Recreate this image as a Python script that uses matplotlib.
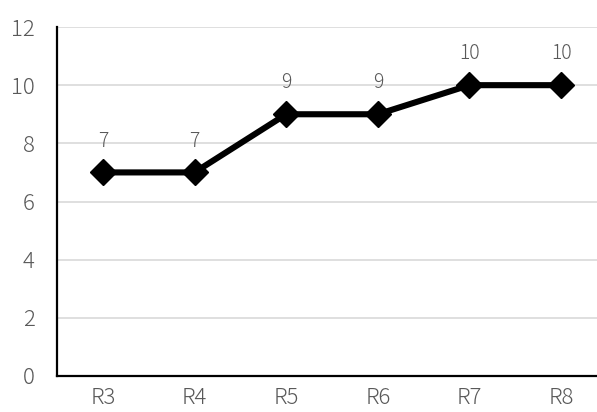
import matplotlib.pyplot as plt

categories = ['R3', 'R4', 'R5', 'R6', 'R7', 'R8']
values = [7, 7, 9, 9, 10, 10]
yticks = [0, 2, 4, 6, 8, 10, 12]

plt.rcParams['font.family'] = ['Noto Sans CJK JP', 'DejaVu Sans']

fig = plt.figure(figsize=(5.97, 4.12), dpi=100)
# axes run past the right edge of the figure, as in the source image
ax = fig.add_axes([57 / 597, 36 / 412, 550 / 597, 349 / 412])

x = range(len(categories))
ax.plot(x, values, color='black', linewidth=4.4, marker='D', markersize=13,
        markerfacecolor='black', markeredgecolor='black', zorder=3, clip_on=False)

for xi, v in zip(x, values):
    ax.annotate(str(v), (xi, v), xytext=(0, 15), textcoords='offset points',
                ha='center', va='bottom', fontsize=14, color='#595959', fontweight='light')

ax.set_xlim(-0.5, len(categories) - 0.5)
ax.set_ylim(0, 12)
ax.set_xticks(list(x))
ax.set_xticklabels(categories)
ax.set_yticks(yticks)

ax.grid(axis='y', color='#d9d9d9', linewidth=1.2)
ax.set_axisbelow(True)
for side in ['top', 'right']:
    ax.spines[side].set_visible(False)
for side in ['left', 'bottom']:
    ax.spines[side].set_color('black')
    ax.spines[side].set_linewidth(1.6)

ax.tick_params(length=0, labelsize=16, colors='#595959')
ax.tick_params(axis='y', pad=16)
ax.tick_params(axis='x', pad=8)
for lbl in ax.get_xticklabels() + ax.get_yticklabels():
    lbl.set_fontweight('light')

fig.savefig('out.png', dpi=100)
